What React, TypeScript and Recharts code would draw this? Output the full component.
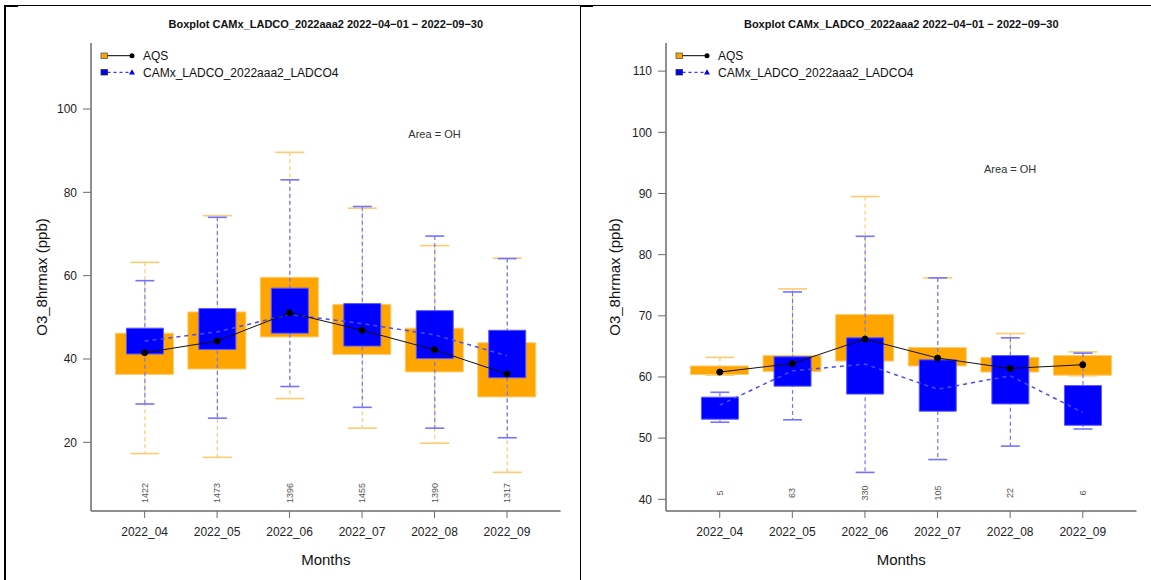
import React from 'react';
import { ComposedChart, Bar, Line, XAxis, YAxis, ReferenceDot } from 'recharts';

// ------------------------------------------------
// Data
// ------------------------------------------------
const months = ['2022_04', '2022_05', '2022_06', '2022_07', '2022_08', '2022_09'];

// Left panel (all OH sites)
const leftCounts = [1422, 1473, 1396, 1455, 1390, 1317];
const leftAqsLow = [17.3, 16.4, 30.5, 23.4, 19.8, 12.8];
const leftAqsQ1 = [36.3, 37.6, 45.3, 41.1, 36.9, 30.9];
const leftAqsMed = [41.5, 44.3, 51.1, 46.9, 42.2, 36.4];
const leftAqsQ3 = [46.2, 51.3, 59.6, 53.1, 47.4, 43.9];
const leftAqsHigh = [63.2, 74.4, 89.6, 76.2, 67.2, 64.2];
const leftModLow = [29.2, 25.8, 33.4, 28.4, 23.4, 21.1];
const leftModQ1 = [41.2, 42.3, 46.2, 43.1, 40.1, 35.5];
const leftModMed = [44.3, 46.5, 50.7, 48.5, 45.8, 40.8];
const leftModQ3 = [47.4, 52.1, 57.0, 53.3, 51.6, 46.9];
const leftModHigh = [58.8, 74.0, 83.0, 76.6, 69.5, 64.1];
const leftTicks = [20, 40, 60, 80, 100];

// Right panel (high-ozone days)
const rightCounts = [5, 63, 330, 105, 22, 6];
const rightAqsLow = [60.3, 59.5, 60.5, 60.5, 60.3, 60.2];
const rightAqsQ1 = [60.4, 60.9, 62.6, 61.8, 60.8, 60.3];
const rightAqsMed = [60.8, 62.2, 66.2, 63.1, 61.4, 62.0];
const rightAqsQ3 = [61.8, 63.5, 70.2, 64.8, 63.2, 63.5];
const rightAqsHigh = [63.2, 74.4, 89.5, 76.2, 67.1, 64.1];
const rightModLow = [52.6, 53.0, 44.4, 46.5, 48.7, 51.5];
const rightModQ1 = [53.1, 58.5, 57.2, 54.4, 55.6, 52.1];
const rightModMed = [55.4, 61.0, 62.1, 58.0, 60.2, 54.2];
const rightModQ3 = [56.7, 63.3, 66.4, 62.8, 63.5, 58.6];
const rightModHigh = [57.5, 73.9, 83.0, 76.2, 66.4, 63.9];
const rightTicks = [40, 50, 60, 70, 80, 90, 100, 110];

const TITLE = 'Boxplot CAMx_LADCO_2022aaa2 2022\u221204\u221201 \u2212 2022\u221209\u221230';
const MODEL = 'CAMx_LADCO_2022aaa2_LADCO4';

const AXIS = '#6b6b6b';
const ORANGE = '#FFA500';
const ORANGE_LIGHT = '#FFCB70';
const BLUE = '#0000FF';
const BLUE_LIGHT = '#7373FF';
const FONT = '"Liberation Sans", Arial, Helvetica, sans-serif';

function buildRows(p: any) {
    return months.map((m, i) => ({
        month: m,
        count: p.counts[i],
        aqsWhisker: [p.aqsLow[i], p.aqsHigh[i]],
        aqsBox: [p.aqsQ1[i], p.aqsQ3[i]],
        aqsMed: p.aqsMed[i],
        modWhisker: [p.modLow[i], p.modHigh[i]],
        modBox: [p.modQ1[i], p.modQ3[i]],
        modMed: p.modMed[i],
    }));
}

const leftRows = buildRows({
    counts: leftCounts, aqsLow: leftAqsLow, aqsQ1: leftAqsQ1, aqsMed: leftAqsMed, aqsQ3: leftAqsQ3, aqsHigh: leftAqsHigh,
    modLow: leftModLow, modQ1: leftModQ1, modMed: leftModMed, modQ3: leftModQ3, modHigh: leftModHigh,
});
const rightRows = buildRows({
    counts: rightCounts, aqsLow: rightAqsLow, aqsQ1: rightAqsQ1, aqsMed: rightAqsMed, aqsQ3: rightAqsQ3, aqsHigh: rightAqsHigh,
    modLow: rightModLow, modQ1: rightModQ1, modMed: rightModMed, modQ3: rightModQ3, modHigh: rightModHigh,
});

// Dashed whisker with solid caps (bar width = cap width)
const whiskerShape = (color: string) => (props: any) => {
    const { x, y, width, height } = props;
    const cx = x + width / 2;
    const top = Math.min(y, y + height);
    const bot = Math.max(y, y + height);
    return (
        <g>
            <line x1={cx} x2={cx} y1={top} y2={bot} stroke={color} strokeWidth={1.2} strokeDasharray="4 3" />
            <line x1={x} x2={x + width} y1={top} y2={top} stroke={color} strokeWidth={1.6} />
            <line x1={x} x2={x + width} y1={bot} y2={bot} stroke={color} strokeWidth={1.6} />
        </g>
    );
};

// Month label below the axis plus the rotated sample count inside the plot
const MonthTick = ({ x, y, payload, index, counts }: any) => (
    <g>
        <text x={x} y={y} dy="0.71em" textAnchor="middle" fontSize={12} fill="#222">
            {payload.value}
        </text>
        <text
            transform={`translate(${x},${y - 34}) rotate(-90)`}
            textAnchor="middle"
            dy="0.35em"
            fontSize={9}
            fill="#555"
        >
            {counts[index]}
        </text>
    </g>
);

function Legend({ left, top }: { left: number; top: number }) {
    return (
        <svg width={260} height={40} style={{ position: 'absolute', left, top, overflow: 'visible' }}>
            <rect x={10} y={10} width={6.5} height={5.5} fill={ORANGE} stroke="#555" strokeWidth={0.8} />
            <line x1={16.5} x2={41} y1={12.7} y2={12.7} stroke="#000" strokeWidth={1} />
            <circle cx={41} cy={12.7} r={2.5} fill="#000" />
            <text x={52} y={17} fontSize={12} fill="#111">AQS</text>
            <rect x={10} y={26.5} width={6.5} height={5.5} fill={BLUE} stroke="#333" strokeWidth={0.8} />
            <line x1={16.5} x2={41} y1={29.3} y2={29.3} stroke={BLUE} strokeWidth={1} strokeDasharray="3 3" />
            <polygon points="41,26.3 44,31.5 38,31.5" fill={BLUE} />
            <text x={52} y={33.5} fontSize={12} fill="#111">{MODEL}</text>
        </svg>
    );
}

interface PanelProps {
    offsetX: number;
    width: number;
    plotLeft: number;
    plotRight: number;
    rows: any[];
    domain: [number, number];
    ticks: number[];
    counts: number[];
    labelX: number;
}

function BoxPanel({ offsetX, width, plotLeft, plotRight, rows, domain, ticks, counts, labelX }: PanelProps) {
    const plotW = plotRight - plotLeft;
    const unit = plotW / 6.48;
    const padSide = (plotW - unit * 6) / 2;
    const pad = { left: padSide, right: padSide };
    const margin = { top: 43, bottom: 0, left: plotLeft - offsetX - 60, right: offsetX + width - plotRight };
    const axisLine = { stroke: AXIS, strokeWidth: 1.5 };

    return (
        <div style={{ position: 'absolute', left: offsetX, top: 0, width, height: 580 }}>
            <ComposedChart width={width} height={580} data={rows} margin={margin}>
                <XAxis
                    xAxisId="main"
                    dataKey="month"
                    padding={pad}
                    height={69}
                    interval={0}
                    tickSize={7}
                    tickMargin={9}
                    axisLine={axisLine}
                    tickLine={{ stroke: AXIS }}
                    tick={<MonthTick counts={counts} />}
                />
                <XAxis
                    xAxisId="aw"
                    orientation="top"
                    dataKey="month"
                    padding={pad}
                    height={0}
                    tick={false}
                    tickLine={false}
                    axisLine={axisLine}
                />
                <XAxis xAxisId="ab" orientation="top" dataKey="month" padding={pad} height={0} hide />
                <XAxis xAxisId="mw" orientation="top" dataKey="month" padding={pad} height={0} hide />
                <XAxis xAxisId="mb" orientation="top" dataKey="month" padding={pad} height={0} hide />
                <YAxis
                    yAxisId="y"
                    type="number"
                    domain={domain}
                    ticks={ticks}
                    allowDataOverflow
                    width={60}
                    tickSize={8}
                    tickMargin={6}
                    axisLine={axisLine}
                    tickLine={{ stroke: AXIS }}
                    tick={{ fontSize: 12, fill: '#222' }}
                />
                <YAxis
                    yAxisId="r"
                    orientation="right"
                    type="number"
                    domain={domain}
                    width={0}
                    tick={false}
                    tickLine={false}
                    axisLine={axisLine}
                />
                <Bar
                    xAxisId="aw"
                    yAxisId="y"
                    dataKey="aqsWhisker"
                    barSize={Math.round(unit * 0.4)}
                    shape={whiskerShape(ORANGE_LIGHT)}
                    isAnimationActive={false}
                />
                <Bar
                    xAxisId="ab"
                    yAxisId="y"
                    dataKey="aqsBox"
                    barSize={Math.round(unit * 0.8)}
                    fill={ORANGE}
                    stroke={ORANGE_LIGHT}
                    strokeWidth={1}
                    isAnimationActive={false}
                />
                <Bar
                    xAxisId="mw"
                    yAxisId="y"
                    dataKey="modWhisker"
                    barSize={Math.round(unit * 0.26)}
                    shape={whiskerShape(BLUE_LIGHT)}
                    isAnimationActive={false}
                />
                <Bar
                    xAxisId="mb"
                    yAxisId="y"
                    dataKey="modBox"
                    barSize={Math.round(unit * 0.51)}
                    fill={BLUE}
                    stroke="#5a5aff"
                    strokeWidth={1}
                    isAnimationActive={false}
                />
                <Line
                    xAxisId="main"
                    yAxisId="y"
                    dataKey="modMed"
                    stroke="#4a4aff"
                    strokeWidth={1.5}
                    strokeDasharray="4 4"
                    dot={false}
                    isAnimationActive={false}
                />
                <Line
                    xAxisId="main"
                    yAxisId="y"
                    dataKey="aqsMed"
                    stroke="#111"
                    strokeWidth={1}
                    dot={{ r: 3, fill: '#000', stroke: '#000', strokeWidth: 1 }}
                    isAnimationActive={false}
                />
                <ReferenceDot
                    xAxisId="main"
                    yAxisId="y"
                    x="2022_08"
                    y={94}
                    r={0}
                    fill="none"
                    stroke="none"
                    label={{ value: 'Area = OH', position: 'center', fontSize: 11, fill: '#333' }}
                />
            </ComposedChart>
            <div
                style={{
                    position: 'absolute', left: plotLeft - offsetX, width: plotW, top: 17,
                    textAlign: 'center', fontSize: 11, fontWeight: 'bold', lineHeight: '14px', color: '#111',
                }}
            >
                {TITLE}
            </div>
            <div
                style={{
                    position: 'absolute', left: plotLeft - offsetX, width: plotW, top: 551,
                    textAlign: 'center', fontSize: 15, lineHeight: '18px', color: '#111',
                }}
            >
                Months
            </div>
            <div
                style={{
                    position: 'absolute', left: labelX - offsetX - 100, top: 268, width: 200, height: 18,
                    textAlign: 'center', fontSize: 15, lineHeight: '18px', color: '#111',
                    transform: 'rotate(-90deg)',
                }}
            >
                O3_8hrmax (ppb)
            </div>
            <Legend left={plotLeft - offsetX} top={43} />
        </div>
    );
}

export default function App() {
    return (
        <div
            style={{
                position: 'absolute', left: 0, top: 0, width: 1151, height: 580,
                background: '#fff', fontFamily: FONT, overflow: 'hidden',
            }}
        >
            {/* table cell borders */}
            <div style={{ position: 'absolute', left: 4, top: 5, width: 1147, height: 1, background: '#000' }} />
            <div style={{ position: 'absolute', left: 4, top: 5, width: 14, height: 2, background: '#000' }} />
            <div style={{ position: 'absolute', left: 4, top: 5, width: 2, height: 575, background: '#000' }} />
            <div style={{ position: 'absolute', left: 580, top: 5, width: 1, height: 575, background: '#000' }} />
            <div style={{ position: 'absolute', left: 580, top: 5, width: 13, height: 2, background: '#000' }} />

            <BoxPanel
                offsetX={6}
                width={574}
                plotLeft={91}
                plotRight={560.6}
                rows={leftRows}
                domain={[3.52, 115.84]}
                ticks={leftTicks}
                counts={leftCounts}
                labelX={42}
            />
            <BoxPanel
                offsetX={581}
                width={570}
                plotLeft={666}
                plotRight={1136.5}
                rows={rightRows}
                domain={[38.09, 114.6]}
                ticks={rightTicks}
                counts={rightCounts}
                labelX={615}
            />
        </div>
    );
}
